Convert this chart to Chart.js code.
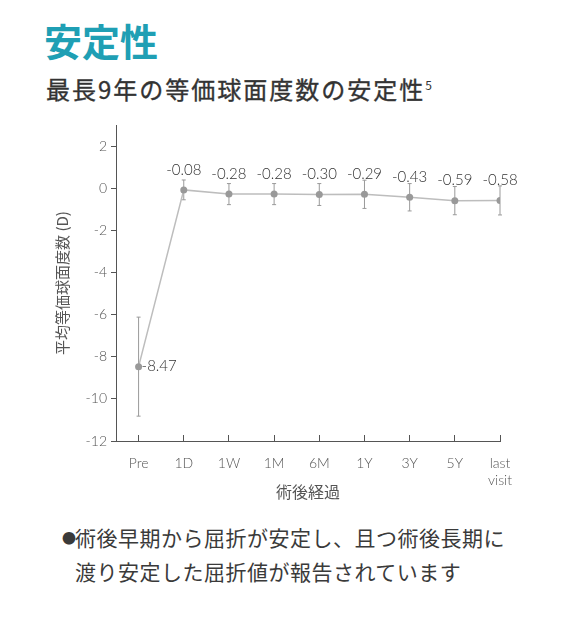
<!DOCTYPE html>
<html>
<head>
<meta charset="utf-8">
<script src="https://cdn.jsdelivr.net/npm/chart.js@4"></script>
<style>
  body { margin: 0; background: #fff; width: 580px; height: 620px; position: relative; overflow: hidden;
         font-family: "Noto Sans CJK JP", sans-serif; }
  .title { position: absolute; left: 44px; top: 12px; font-size: 38px; font-weight: 700; color: #1f9fb4; }
  .subtitle { position: absolute; left: 46px; top: 71px; font-size: 24px; font-weight: 400; color: #333;
              letter-spacing: 2px; -webkit-text-stroke: 0.35px #333; }
  .subtitle sup { font-size: 12px; vertical-align: 9px; letter-spacing: 0; -webkit-text-stroke: 0; }
  .wrap { position: absolute; left: 0; top: 110px; width: 580px; height: 400px; }
  .note { position: absolute; left: 62px; top: 520px; font-size: 21px; line-height: 34px; color: #3a3a3a;
          padding-left: 13px; letter-spacing: 0.5px; }
  .note .dot { position: absolute; left: 0; top: 0; font-size: 14px; }
</style>
</head>
<body>
<div class="title">安定性</div>
<div class="subtitle">最長9年の等価球面度数の安定性<sup>5</sup></div>
<div class="wrap"><canvas id="stability"></canvas></div>
<div class="note"><span class="dot">●</span>術後早期から屈折が安定し、且つ術後長期に<br>渡り安定した屈折値が報告されています</div>
<script>
const categories = ["Pre", "1D", "1W", "1M", "6M", "1Y", "3Y", "5Y", ["last", "visit"]];
const meanValues = [-8.47, -0.08, -0.28, -0.28, -0.30, -0.29, -0.43, -0.59, -0.58];
const errorValues = [2.35, 0.47, 0.5, 0.5, 0.52, 0.67, 0.65, 0.67, 0.69];
const yTicks = [2, 0, -2, -4, -6, -8, -10, -12];

const numFont = 'Lato, "Noto Sans CJK JP", sans-serif';
const jpFont = '"Noto Sans CJK JP", sans-serif';

// error bars under the points
const errorBars = {
  id: "errorBars",
  beforeDatasetsDraw(chart) {
    const ctx = chart.ctx;
    const y = chart.scales.y;
    const pts = chart.getDatasetMeta(0).data;
    ctx.save();
    ctx.strokeStyle = "#9a9a9a";
    ctx.lineWidth = 1;
    pts.forEach((p, i) => {
      const top = y.getPixelForValue(meanValues[i] + errorValues[i]);
      const bot = y.getPixelForValue(meanValues[i] - errorValues[i]);
      ctx.beginPath();
      ctx.moveTo(p.x, top); ctx.lineTo(p.x, bot);
      ctx.moveTo(p.x - 2, top); ctx.lineTo(p.x + 2, top);
      ctx.moveTo(p.x - 2, bot); ctx.lineTo(p.x + 2, bot);
      ctx.stroke();
    });
    ctx.restore();
  }
};

// value labels
const valueLabels = {
  id: "valueLabels",
  afterDatasetsDraw(chart) {
    const ctx = chart.ctx;
    const pts = chart.getDatasetMeta(0).data;
    ctx.save();
    ctx.font = "300 15px " + numFont;
    ctx.fillStyle = "#333";
    ctx.textBaseline = "middle";
    pts.forEach((p, i) => {
      const txt = meanValues[i].toFixed(2);
      if (i === 0) {
        ctx.textAlign = "left";
        ctx.fillText(txt, p.x + 3, p.y);
      } else {
        ctx.textAlign = "center";
        ctx.fillText(txt, p.x, p.y - 20);
      }
    });
    ctx.restore();
  }
};

new Chart("stability", {
  type: "line",
  data: {
    datasets: [
      {
        data: meanValues.map((v, i) => ({ x: i, y: v })),
        borderColor: "#bdbdbd",
        borderWidth: 1.5,
        pointRadius: 3.5,
        pointBackgroundColor: "#999",
        pointBorderWidth: 0,
        tension: 0,
      },
    ],
  },
  options: {
    responsive: true,
    maintainAspectRatio: false,
    animation: false,
    layout: { padding: { left: 50, right: 80, top: 15, bottom: 0 } },
    plugins: { legend: { display: false }, tooltip: { enabled: false } },
    scales: {
      x: {
        type: "linear",
        min: -0.5,
        max: 8,
        afterBuildTicks: (s) => { s.ticks = categories.map((c, i) => ({ value: i })); },
        afterFit: (s) => { s.height = 69; s.paddingLeft = 0; s.paddingRight = 0; },
        ticks: {
          callback: (v) => categories[v],
          color: "#555",
          font: { size: 14, family: numFont, weight: 300 },
          padding: 20,
          maxRotation: 0,
          autoSkip: false,
        },
        grid: { drawOnChartArea: false, drawTicks: true, tickLength: -6, tickColor: "#555" },
        border: { color: "#555", width: 1 },
        title: {
          display: true,
          text: "術後経過",
          color: "#555",
          font: { size: 16, family: jpFont },
          padding: { top: 0, bottom: 8 },
        },
      },
      y: {
        min: -12,
        max: 3,
        afterBuildTicks: (s) => { s.ticks = yTicks.map((v) => ({ value: v })); },
        afterFit: (s) => { s.width = 66; s.paddingTop = 0; s.paddingBottom = 0; },
        ticks: {
          color: "#555",
          font: { size: 14, family: numFont, weight: 300 },
          padding: 4,
        },
        grid: { drawOnChartArea: false, drawTicks: true, tickLength: 5, tickColor: "#555" },
        border: { color: "#555", width: 1 },
        title: {
          display: true,
          text: "平均等価球面度数 (D)",
          color: "#555",
          font: { size: 15, family: jpFont },
          padding: { top: 3, bottom: 0 },
        },
      },
    },
  },
  plugins: [errorBars, valueLabels],
});
</script>
</body>
</html>
